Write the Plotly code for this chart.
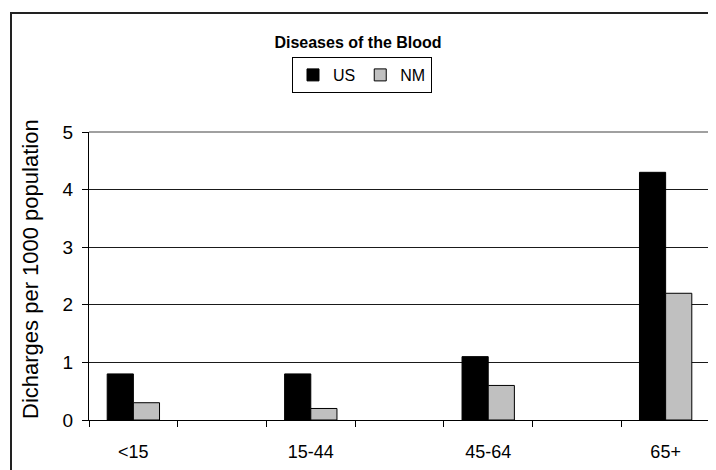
import plotly.graph_objects as go

# ---- data ----
age_groups = ["<15", "15-44", "45-64", "65+"]
us_rates = [0.8, 0.8, 1.1, 4.3]
nm_rates = [0.3, 0.2, 0.6, 2.2]
y_ticks = [0, 1, 2, 3, 4, 5]

# category axis with empty spacer slots between the age groups
x_cats, us_y, nm_y = [], [], []
for i, g in enumerate(age_groups):
    x_cats.append(g)
    us_y.append(us_rates[i])
    nm_y.append(nm_rates[i])
    if i < len(age_groups) - 1:
        x_cats.append(" " * (i + 1))
        us_y.append(None)
        nm_y.append(None)

FONT = "Liberation Sans, Arial, sans-serif"

fig = go.Figure()
fig.add_trace(go.Bar(name="US", x=x_cats, y=us_y,
                     marker=dict(color="#000000", line=dict(color="#000000", width=1))))
fig.add_trace(go.Bar(name="NM", x=x_cats, y=nm_y,
                     marker=dict(color="#C0C0C0", line=dict(color="#000000", width=1))))

# page has an 8px body margin: work in page coordinates and shift
OFF = 8
W, H = 716 - OFF, 470 - OFF
PL, PR, PT, PB = 89, 710, 132, 420          # plot area in page pixels
L, T = PL - OFF, PT - OFF
R = W - (PR - OFF)
B = H - (PB - OFF)
pw, ph = PR - PL, PB - PT

def px_x(p):
    return (p - PL) / pw

def px_y(p):
    return (PB - p) / ph

fig.update_layout(
    width=W, height=H,
    margin=dict(l=L, r=R, t=T, b=B, autoexpand=False),
    paper_bgcolor="white", plot_bgcolor="white",
    font=dict(family=FONT, color="black"),
    barmode="group", bargap=0.41, bargroupgap=0,
    title=dict(text="<b>Diseases of the Blood</b>", xref="container", yref="container",
               x=(358 - OFF) / W, y=1 - (42 - OFF) / H, xanchor="center", yanchor="middle",
               font=dict(family=FONT, size=16, color="black")),
    legend=dict(orientation="h", xref="paper", yref="paper",
                x=px_x(362), y=px_y(57), xanchor="center", yanchor="top",
                bordercolor="black", borderwidth=1, bgcolor="white",
                font=dict(family=FONT, size=16, color="black"),
                itemwidth=30, tracegroupgap=0),
    showlegend=True,
)

fig.update_xaxes(type="category", categoryorder="array", categoryarray=x_cats,
                 tickson="boundaries", ticks="outside", ticklen=6, tickcolor="black",
                 showline=True, linecolor="black", linewidth=1,
                 showgrid=False, zeroline=False,
                 tickfont=dict(family=FONT, size=18, color="black"),
                 ticklabelstandoff=15)
fig.update_yaxes(range=[0, 5], tickvals=y_ticks, ticks="outside", ticklen=6,
                 tickcolor="black", showline=True, linecolor="black", linewidth=1,
                 showgrid=True, gridcolor="#1a1a1a", gridwidth=1, zeroline=False,
                 tickfont=dict(family=FONT, size=19, color="black"),
                 ticklabelstandoff=5)

# y-axis title
fig.add_annotation(text="Dicharges per 1000 population", textangle=-90,
                   xref="paper", yref="paper", x=px_x(30), y=px_y(269),
                   xanchor="center", yanchor="middle", showarrow=False,
                   font=dict(family=FONT, size=22, color="black"))

# gray top/right plot-area border
fig.add_shape(type="line", xref="paper", yref="paper", x0=0, x1=1, y0=1, y1=1,
              line=dict(color="#A0A0A0", width=2), layer="above")
fig.add_shape(type="line", xref="paper", yref="paper", x0=1, x1=1, y0=0, y1=1,
              line=dict(color="#A0A0A0", width=2), layer="above")
# outer chart frame (left and top edges visible)
fig.add_shape(type="rect", xref="paper", yref="paper",
              x0=px_x(11), x1=px_x(730), y0=px_y(490), y1=px_y(13),
              line=dict(color="#222222", width=2), fillcolor="rgba(0,0,0,0)", layer="above")

fig.write_html("out.html")
